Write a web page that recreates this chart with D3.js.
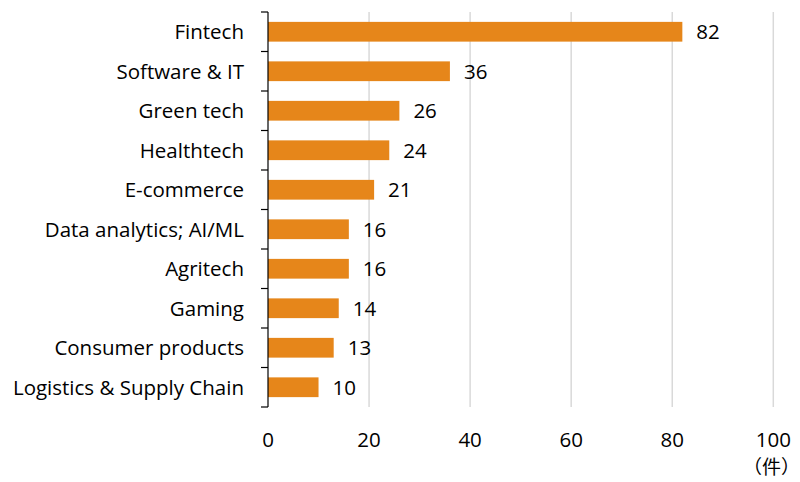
<!DOCTYPE html>
<html>
<head>
<meta charset="utf-8">
<script src="https://cdn.jsdelivr.net/npm/d3@7"></script>
<style>
  body { margin: 0; background: #fff; }
  svg text { font-family: "Open Sans", "Noto Sans", sans-serif; fill: #000; }
</style>
</head>
<body>
<svg id="chart" width="800" height="482"></svg>
<script>
const categories = ["Fintech", "Software & IT", "Green tech", "Healthtech", "E-commerce",
  "Data analytics; AI/ML", "Agritech", "Gaming", "Consumer products", "Logistics & Supply Chain"];
const counts = [82, 36, 26, 24, 21, 16, 16, 14, 13, 10];
const xTicks = [0, 20, 40, 60, 80, 100];
const unitLabel = "（件）";

const svg = d3.select("#chart");
const plot = { left: 268, right: 773.3, top: 12, bottom: 407 };
const fontSize = 20.5;

const x = d3.scaleLinear().domain([0, 100]).range([plot.left, plot.right]);
const y = d3.scaleBand().domain(categories).range([plot.top, plot.bottom]).paddingInner(0.5).paddingOuter(0.25);

// vertical gridlines
svg.append("g").selectAll("line").data(xTicks.filter(d => d > 0)).join("line")
  .attr("x1", d => x(d)).attr("x2", d => x(d))
  .attr("y1", plot.top).attr("y2", plot.bottom)
  .attr("stroke", "#d9d9d9").attr("stroke-width", 1.5);

// bars
svg.append("g").selectAll("rect").data(categories).join("rect")
  .attr("x", x(0))
  .attr("y", d => y(d))
  .attr("width", (d, i) => x(counts[i]) - x(0))
  .attr("height", y.bandwidth())
  .attr("fill", "#E6861A");

// value labels
svg.append("g").selectAll("text").data(categories).join("text")
  .attr("x", (d, i) => x(counts[i]) + 14)
  .attr("y", d => y(d) + y.bandwidth() / 2)
  .attr("dy", "0.36em")
  .attr("font-size", fontSize)
  .text((d, i) => counts[i]);

// category axis with ticks between bands
const step = (plot.bottom - plot.top) / categories.length;
const axisG = svg.append("g");
axisG.append("line").attr("x1", plot.left).attr("x2", plot.left).attr("y1", plot.top).attr("y2", plot.bottom)
  .attr("stroke", "#000").attr("stroke-width", 1.2);
axisG.selectAll("line.tick").data(d3.range(categories.length + 1)).join("line")
  .attr("class", "tick")
  .attr("x1", plot.left - 7).attr("x2", plot.left)
  .attr("y1", i => plot.top + i * step).attr("y2", i => plot.top + i * step)
  .attr("stroke", "#000").attr("stroke-width", 1.2);
axisG.selectAll("text").data(categories).join("text")
  .attr("x", 244)
  .attr("y", d => y(d) + y.bandwidth() / 2)
  .attr("dy", "0.36em")
  .attr("text-anchor", "end")
  .attr("font-size", fontSize)
  .text(d => d);

// x tick labels
svg.append("g").selectAll("text").data(xTicks).join("text")
  .attr("x", d => x(d))
  .attr("y", 440)
  .attr("dy", "0.36em")
  .attr("text-anchor", "middle")
  .attr("font-size", fontSize)
  .text(d => d);

svg.append("text")
  .attr("x", 800).attr("y", 467)
  .attr("dy", "0.36em")
  .attr("text-anchor", "end")
  .attr("font-size", 19)
  .style("font-family", "'Noto Sans CJK JP', sans-serif")
  .text(unitLabel);
</script>
</body>
</html>
